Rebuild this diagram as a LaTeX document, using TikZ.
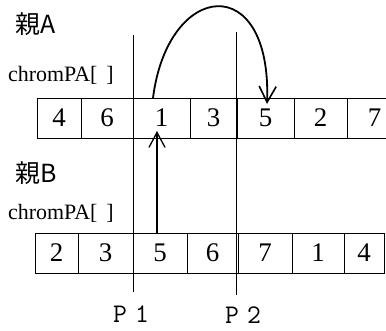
\documentclass[tikz,border=0pt]{standalone}
\usepackage{fontspec}
\setmainfont{Liberation Serif}
\newfontfamily\jp{Noto Sans CJK JP}
\usetikzlibrary{arrows.meta}
\tikzset{
  cell/.style={draw, line width=0.9bp, inner sep=0pt, minimum height=40bp, font=\fontsize{27}{27}\selectfont},
  lbl/.style={inner sep=0pt, font=\fontsize{22}{22}\selectfont},
  jlbl/.style={inner sep=0pt, font=\jp\fontsize{25}{25}\selectfont},
  plbl/.style={inner sep=0pt, font=\ttfamily\fontsize{27}{27}\selectfont},
  cut/.style={line width=0.9bp},
  arr/.style={line width=1.1bp, -{Straight Barb[length=15bp,width=16bp,line width=1.3bp]}},
  bigarr/.style={line width=1.8bp, -{Straight Barb[length=16bp,width=17bp,line width=1.6bp]}}
}
\newcommand{\mkcell}[5]{\node[cell, minimum width={(#3-#2)*1bp}] (#1) at ({(#2+#3)/2},#4) {#5};}
\begin{document}
\begin{tikzpicture}[x=1bp,y=-1bp]
\useasboundingbox (0,0) rectangle (386,331);
\clip (0,0) rectangle (386,331);
% parent A
\node[jlbl] (pa) at (36,24) {親A};
\node[lbl, anchor=west] (ca) at (8,75) {chromPA[\hspace{0.4em}]};
\mkcell{a1}{37}{81}{118}{4}
\mkcell{a2}{81}{133}{118}{6}
\mkcell{a3}{133}{190}{118}{1}
\mkcell{a4}{190}{237}{118}{3}
\mkcell{a5}{237}{294}{118}{5}
\mkcell{a6}{294}{347}{118}{2}
\mkcell{a7}{347}{402}{118}{7}
% parent B
\node[jlbl] (pb) at (36,173) {親B};
\node[lbl, anchor=west] (cb) at (8,213) {chromPA[\hspace{0.4em}]};
\mkcell{b1}{35}{78}{253}{2}
\mkcell{b2}{78}{133}{253}{3}
\mkcell{b3}{133}{187}{253}{5}
\mkcell{b4}{187}{238}{253}{6}
\mkcell{b5}{238}{292}{253}{7}
\mkcell{b6}{292}{344}{253}{1}
\mkcell{b7}{344}{384}{253}{4}
% cut points
\coordinate (p1top) at (133,35);
\coordinate (p1bot) at (133,292);
\coordinate (p2top) at (236,32);
\coordinate (p2bot) at (236,295);
\draw[cut] (p1top) -- (p1bot);
\draw[cut] (p2top) -- (p2bot);
\node[plbl] (p1) at (131,314) {P\hspace{0.3em}1};
\node[plbl] (p2) at (243,315) {P\hspace{0.3em}2};
% arrows
\coordinate (upstart) at (157,233);
\coordinate (uptip) at (157,131);
\draw[arr] (upstart) -- (uptip);
\coordinate (cstart) at (153,98);
\coordinate (ctip) at (267,104);
\draw[bigarr] (cstart) .. controls (168,-20) and (272,-30) .. (ctip);
\end{tikzpicture}
\end{document}
